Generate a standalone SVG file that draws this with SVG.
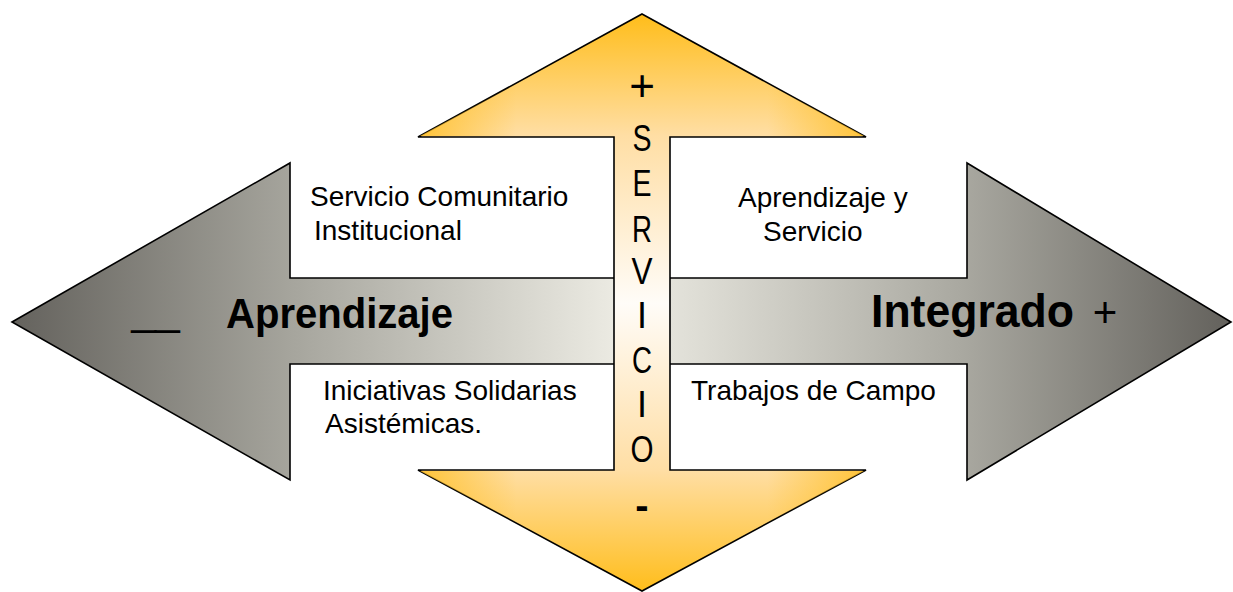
<svg xmlns="http://www.w3.org/2000/svg" width="1233" height="592" viewBox="0 0 1233 592">
  <style>
    .lbl { font-family: "Liberation Sans", Arial, sans-serif; font-size: 28px; fill: #000; }
    .big { font-family: "Liberation Sans", Arial, sans-serif; font-weight: bold; fill: #000; }
    .vert { font-family: "Liberation Sans", Arial, sans-serif; font-size: 36px; fill: #000; text-anchor: middle; }
    .shape { stroke: #000; stroke-width: 1.6; stroke-linejoin: miter; }
  </style>
  <defs>
    <linearGradient id="gGrey" gradientUnits="userSpaceOnUse" x1="12" y1="0" x2="1231" y2="0">
      <stop offset="0" stop-color="#64625d"/>
      <stop offset="0.23" stop-color="#a6a59d"/>
      <stop offset="0.5" stop-color="#edece4"/>
      <stop offset="0.78" stop-color="#a9a8a0"/>
      <stop offset="1" stop-color="#63615c"/>
    </linearGradient>
    <linearGradient id="gGold" gradientUnits="userSpaceOnUse" x1="0" y1="14" x2="0" y2="592">
      <stop offset="0" stop-color="#ffbd1a"/>
      <stop offset="0.21" stop-color="#ffdea4"/>
      <stop offset="0.5" stop-color="#fffcf8"/>
      <stop offset="0.79" stop-color="#ffdea4"/>
      <stop offset="1" stop-color="#ffbd1a"/>
    </linearGradient>
    <linearGradient id="gGoldSide" gradientUnits="userSpaceOnUse" x1="418" y1="0" x2="866" y2="0">
      <stop offset="0" stop-color="#ffbf25" stop-opacity="0.85"/>
      <stop offset="0.22" stop-color="#ffbf25" stop-opacity="0"/>
      <stop offset="0.78" stop-color="#ffbf25" stop-opacity="0"/>
      <stop offset="1" stop-color="#ffbf25" stop-opacity="0.85"/>
    </linearGradient>
  </defs>

  <rect width="1233" height="592" fill="#ffffff"/>

  <g id="horizontal-arrow">
    <polygon class="shape" fill="url(#gGrey)" points="12,322 290,163 290,278 967,278 967,163 1231,322 967,480 967,364 290,364 290,480"/>
  </g>

  <g id="vertical-arrow">
    <polygon class="shape" fill="url(#gGold)" points="642,14 866,137 670,137 670,470 866,470 642,591 418,470 614,470 614,137 418,137"/>
    <polygon fill="url(#gGoldSide)" points="642,15 864,136 420,136"/>
    <polygon fill="url(#gGoldSide)" points="642,590 864,471 420,471"/>
    <text class="vert" x="642" y="101" style="font-size:44px">+</text>
    <text class="vert" x="642" y="151" textLength="19" lengthAdjust="spacingAndGlyphs">S</text>
    <text class="vert" x="642" y="196" textLength="19" lengthAdjust="spacingAndGlyphs">E</text>
    <text class="vert" x="642" y="242" textLength="20" lengthAdjust="spacingAndGlyphs">R</text>
    <text class="vert" x="642" y="284" textLength="21" lengthAdjust="spacingAndGlyphs">V</text>
    <text class="vert" x="642" y="328">I</text>
    <text class="vert" x="642" y="373" textLength="20" lengthAdjust="spacingAndGlyphs">C</text>
    <text class="vert" x="642" y="417">I</text>
    <text class="vert" x="642" y="462" textLength="23" lengthAdjust="spacingAndGlyphs">O</text>
    <text class="vert" x="642" y="519" style="font-size:40px;font-weight:bold">-</text>
  </g>

  <g id="label-aprendizaje">
    <text class="big" x="132" y="328" font-size="36" textLength="47" lengthAdjust="spacingAndGlyphs" stroke="#000" stroke-width="1.5">__</text>
    <text class="big" x="226" y="328" font-size="43" textLength="227" lengthAdjust="spacingAndGlyphs">Aprendizaje</text>
  </g>

  <g id="label-integrado">
    <text class="big" x="871" y="327" font-size="47" textLength="203" lengthAdjust="spacingAndGlyphs">Integrado</text>
    <text class="lbl" x="1105" y="327" style="font-size:42px" text-anchor="middle">+</text>
  </g>

  <g id="q-servicio-comunitario">
    <text class="lbl" x="310" y="206">Servicio Comunitario</text>
    <text class="lbl" x="314" y="240">Institucional</text>
  </g>

  <g id="q-aprendizaje-servicio">
    <text class="lbl" x="738" y="207">Aprendizaje y</text>
    <text class="lbl" x="763" y="241">Servicio</text>
  </g>

  <g id="q-iniciativas">
    <text class="lbl" x="323" y="400">Iniciativas Solidarias</text>
    <text class="lbl" x="325" y="433">Asistémicas.</text>
  </g>

  <g id="q-trabajos">
    <text class="lbl" x="691" y="400">Trabajos de Campo</text>
  </g>

  <g id="connectors"></g>
</svg>
